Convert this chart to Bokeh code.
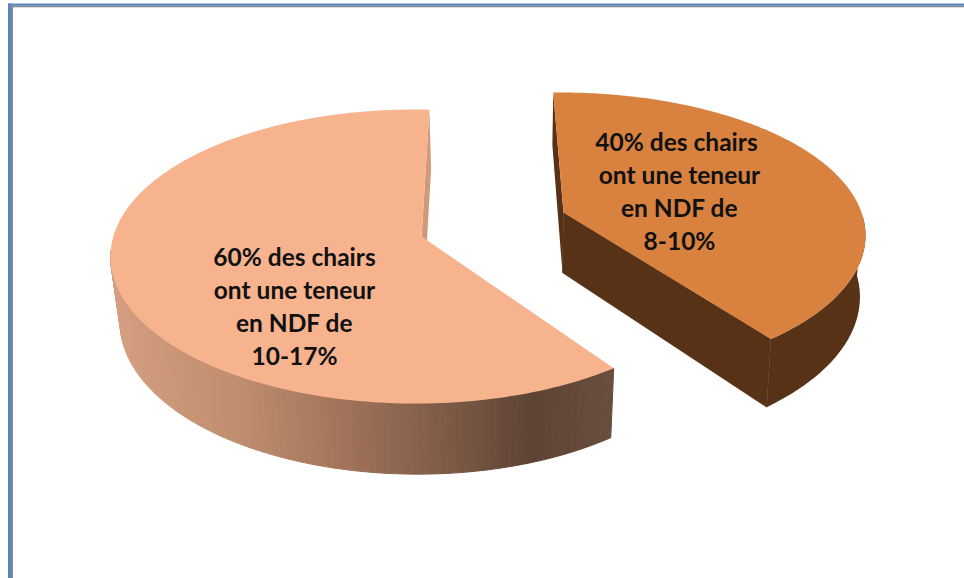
import numpy as np
from bokeh.plotting import figure
from bokeh.models import Range1d
from bokeh.embed import file_html
from bokeh.resources import INLINE
from bokeh.core.properties import value

# ---- data
categories = ["8-10%", "10-17%"]
shares = [40, 60]
label_orange = ["40% des  chairs", "ont une teneur", "en NDF de", "8-10%"]
label_peach = ["60% des chairs", "ont une teneur", "en NDF de", "10-17%"]

W, H = 964, 578
p = figure(width=W, height=H, x_range=Range1d(0, W), y_range=Range1d(H, 0),
           x_axis_type=None, y_axis_type=None, toolbar_location=None,
           output_backend="svg", min_border=0, outline_line_color=None,
           background_fill_color="white", border_fill_color="white")
p.grid.visible = False

# frame
p.quad(left=[7.5, 10.5], right=[10.5, 12.5], top=[3, 5], bottom=[H, H],
       fill_color=["#5B85C0", "#84898F"], line_color=None)
p.quad(left=[7.5, 10.5], right=[W, W], top=[3, 5.2], bottom=[5.2, 6.8],
       fill_color=["#5B85C0", "#84898F"], line_color=None)


def slice_geometry(share, start, direction, foreshorten, cx, cy, rx, ry, d, apex_dx, depth, g, s, dx):
    sweep = np.radians(share / sum(shares) * 360.0) * direction * foreshorten
    th = np.radians(start) + np.linspace(0, sweep, 181)
    # perspective map of the disc: the pie's centre is seen above the ellipse's centre
    den = 1 + d * np.sin(th)
    ex = np.cos(th) * np.sqrt(1 - d * d) / den
    ey = (np.sin(th) + d) / den
    x = cx + rx * ex
    y = cy - ry * ey
    ax, ay = cx + apex_dx, cy - ry * d

    def lower(px, py):
        px, py = np.asarray(px, float), np.asarray(py, float)
        return cx + s * (px - cx) + dx, py + depth + g * (py - cy)

    xb, yb = lower(x, y)
    abx, aby = lower(ax, ay)
    return x, y, ax, ay, xb, yb, float(abx), float(aby)


# orange slice
x, y, ax, ay, xb, yb, abx, aby = slice_geometry(shares[0], 91.6, -1, 1.0, 560, 235, 305, 143, 0.16, 3,
                                               61.5, 0.064, 0.985, -1)
DARK = "#573216"
vis = y > 215
p.patch(list(x[vis]) + list(xb[vis][::-1]), list(y[vis]) + list(yb[vis][::-1]),
        fill_color=DARK, line_color=None)
p.patch([ax, x[0], xb[0], abx], [ay, y[0], yb[0], aby], fill_color=DARK, line_color=None)
p.patch([ax, x[-1], xb[-1], abx], [ay, y[-1], yb[-1], aby], fill_color=DARK, line_color=DARK, line_width=0.6)
p.patch([ax] + list(x), [ay] + list(y), fill_color="#D98240", line_color=None)

# peach slice
x, y, ax, ay, xb, yb, abx, aby = slice_geometry(shares[1], 87, 1, 1.0125, 415, 256, 305, 147, 0.136, 6,
                                               65.5, 0.035, 0.975, 2)
p.patch([ax, x[0], xb[0], abx], [ay, y[0], yb[0], aby], fill_color="#D0997A", line_color=None)

stop_x = [118, 250, 350, 450, 530, 612]
stop_r = [214, 190, 160, 125, 95, 106]
stop_g = [160, 140, 115, 90, 68, 78]
stop_b = [130, 110, 90, 70, 53, 62]
xs, ys, cols = [], [], []
for i in range(len(x) - 1):
    if y[i] < 250 and y[i + 1] < 250:
        continue
    mid = (xb[i] + xb[i + 1]) / 2
    c = (int(np.interp(mid, stop_x, stop_r)), int(np.interp(mid, stop_x, stop_g)), int(np.interp(mid, stop_x, stop_b)))
    xs.append([x[i], x[i + 1], xb[i + 1], xb[i]])
    ys.append([y[i], y[i + 1], yb[i + 1], yb[i]])
    cols.append("#%02x%02x%02x" % c)
p.patches(xs, ys, fill_color=cols, line_color=cols, line_width=1.0)
p.patch([ax] + list(x), [ay] + list(y), fill_color="#F6B38E", line_color=None)

# labels
FONT = value("Lato")
for lines, tx, ty in ((label_orange, 679, 141), (label_peach, 294, 256)):
    p.text([tx] * 4, [ty + 33 * i for i in range(4)], text=lines, text_font=FONT,
           text_font_size="24.5px", text_font_style="bold", text_align="center",
           text_baseline="middle", text_color="#111111")

open("out.html", "w").write(file_html(p, INLINE))
